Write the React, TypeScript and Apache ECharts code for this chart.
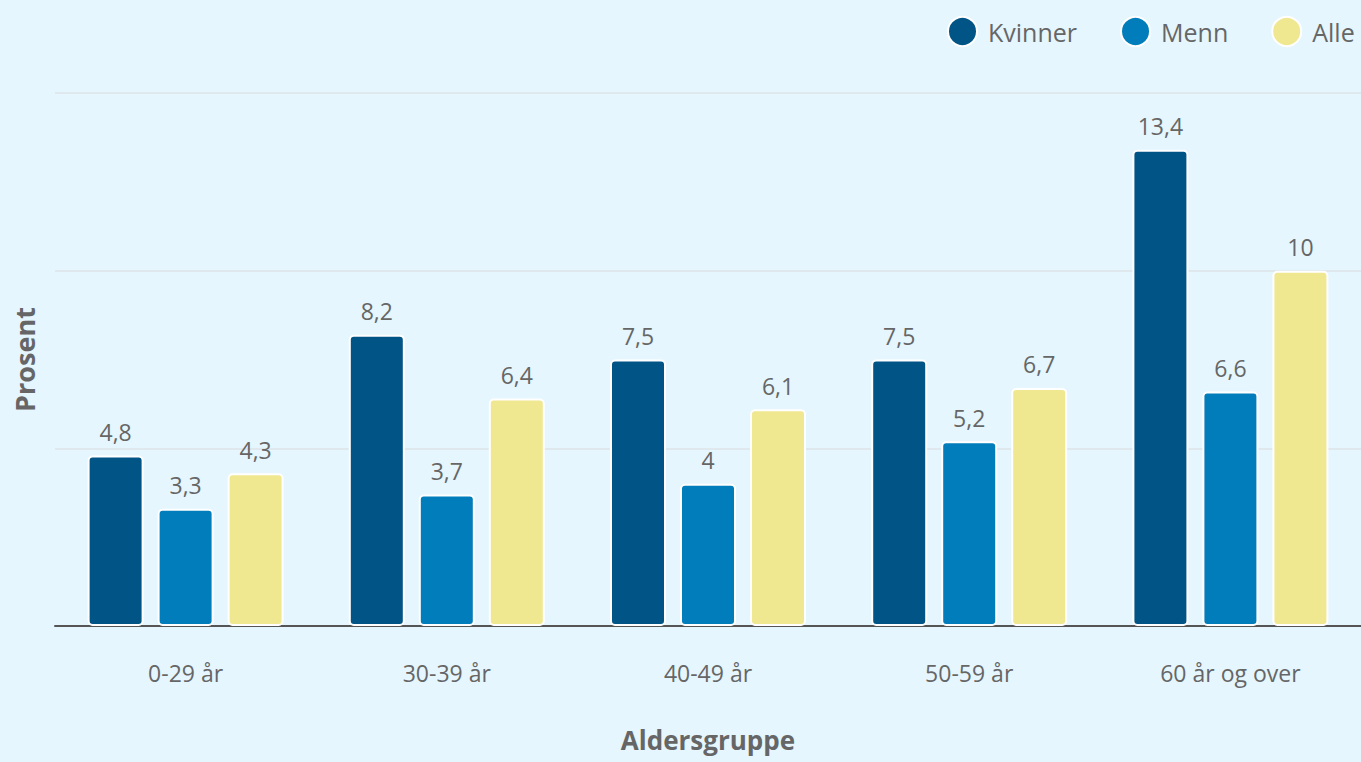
import React, { useEffect, useRef } from "react";
import * as echarts from "echarts";

const categories = ["0-29 år", "30-39 år", "40-49 år", "50-59 år", "60 år og over"];
const kvinner = [4.8, 8.2, 7.5, 7.5, 13.4];
const menn = [3.3, 3.7, 4, 5.2, 6.6];
const alle = [4.3, 6.4, 6.1, 6.7, 10];
const seriesNames = ["Kvinner", "Menn", "Alle"];
const colors = ["#005586", "#007dba", "#f0e891"];

const FONT = "'Open Sans', Lato, sans-serif";
const TXT = "#666666";

export default function App() {
  const ref = useRef<HTMLDivElement>(null);
  useEffect(() => {
    document.body.style.margin = "0";
    const chart = echarts.init(ref.current!, null, { renderer: "svg" });
    const datasets = [kvinner, menn, alle];
    chart.setOption({
      animation: false,
      backgroundColor: "#e5f6fe",
      textStyle: { fontFamily: FONT },
      legend: {
        left: 947,
        top: 16,
        padding: 0,
        icon: "circle",
        itemWidth: 29,
        itemHeight: 29,
        itemGap: 43,
        textStyle: { fontSize: 25, color: TXT, fontFamily: FONT, padding: [0, 0, 0, 6] },
        data: seriesNames,
      },
      grid: { left: 55, right: 0, top: 93, bottom: 136, containLabel: false, outerBoundsMode: "none" },
      xAxis: {
        type: "category",
        data: categories,
        name: "Aldersgruppe",
        nameLocation: "middle",
        nameGap: 101,
        nameTextStyle: { fontSize: 26, fontWeight: "bold", color: TXT, fontFamily: FONT, lineHeight: 26 },
        axisLine: { lineStyle: { color: "#555555", width: 2 } },
        axisTick: { show: false },
        axisLabel: { fontSize: 23, color: TXT, margin: 35, fontFamily: FONT },
      },
      yAxis: {
        type: "value",
        min: 0,
        max: 15,
        interval: 5,
        name: "Prosent",
        nameLocation: "middle",
        nameGap: 17,
        nameTextStyle: { fontSize: 27, fontWeight: "bold", color: TXT, fontFamily: FONT },
        axisLabel: { show: false },
        axisLine: { show: false },
        axisTick: { show: false },
        splitLine: { lineStyle: { color: "#dde3e6", width: 1.5 } },
      },
      series: seriesNames.map((name, i) => ({
        name,
        type: "bar",
        data: datasets[i],
        barWidth: 56,
        barGap: "25%",
        itemStyle: {
          color: colors[i],
          borderColor: "#ffffff",
          borderWidth: 2,
          borderRadius: 4,
        },
        label: {
          show: true,
          position: "top",
          distance: 12,
          fontSize: 23,
          color: TXT,
          fontFamily: FONT,
          formatter: (p: any) => String(p.value).replace(".", ","),
        },
      })),
    });
    return () => chart.dispose();
  }, []);
  return <div ref={ref} style={{ width: 1361, height: 762 }} />;
}
